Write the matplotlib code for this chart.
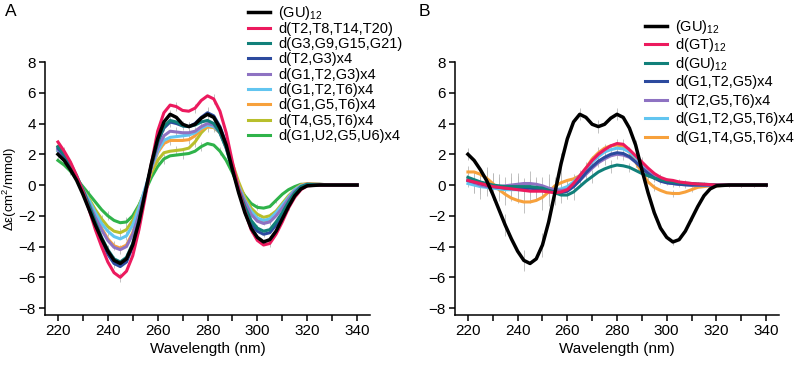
import matplotlib
matplotlib.use("Agg")
import matplotlib.pyplot as plt
from matplotlib.lines import Line2D
import numpy as np

plt.rcParams['font.family'] = ['Liberation Sans', 'DejaVu Sans']
plt.rcParams['mathtext.fontset'] = 'custom'
plt.rcParams['mathtext.rm'] = 'Liberation Sans'
plt.rcParams['mathtext.it'] = 'Liberation Sans:italic'

# wavelengths (nm)
wl = [220, 222.5, 225, 227.5, 230, 232.5, 235, 237.5, 240, 242.5, 245, 247.5,
      250, 252.5, 255, 257.5, 260, 262.5, 265, 267.5, 270, 272.5, 275, 277.5,
      280, 282.5, 285, 287.5, 290, 292.5, 295, 297.5, 300, 302.5, 305, 307.5,
      310, 312.5, 315, 317.5, 320, 325, 330, 335, 340]

# (GU)12, shown in both panels
gu12 = [2.0, 1.6, 1.0, 0.3, -0.6, -1.6, -2.6, -3.5, -4.3, -4.9, -5.1, -4.8, -3.9,
        -2.4, -0.5, 1.4, 3.0, 4.1, 4.6, 4.4, 3.95, 3.8, 3.95, 4.35, 4.6, 4.4, 3.7,
        2.6, 1.0, -0.5, -1.8, -2.8, -3.4, -3.7, -3.55, -3.0, -2.2, -1.4, -0.7,
        -0.25, -0.05, 0.0, 0.0, 0.0, 0.0]

# panel A
a_t = [2.8, 2.2, 1.5, 0.6, -0.4, -1.6, -2.9, -4.0, -5.0, -5.7, -6.0, -5.6, -4.6,
       -2.9, -0.8, 1.4, 3.5, 4.7, 5.2, 5.1, 4.85, 4.8, 5.0, 5.5, 5.8, 5.6, 4.8,
       3.4, 1.5, -0.3, -1.7, -2.9, -3.6, -3.9, -3.8, -3.2, -2.4, -1.5, -0.8,
       -0.3, -0.05, 0.0, 0.0, 0.0, 0.0]
a_g = [2.5, 2.0, 1.4, 0.6, -0.3, -1.3, -2.4, -3.4, -4.2, -4.8, -5.0, -4.7, -3.8,
       -2.3, -0.5, 1.3, 2.8, 3.8, 4.2, 4.1, 3.85, 3.8, 3.9, 4.1, 4.2, 4.0, 3.4,
       2.4, 1.0, -0.3, -1.4, -2.3, -2.8, -3.0, -2.9, -2.4, -1.8, -1.1, -0.5,
       -0.1, 0.05, 0.05, 0.0, 0.0, 0.0]
a_t2g3 = [2.4, 1.9, 1.3, 0.5, -0.4, -1.5, -2.6, -3.6, -4.5, -5.1, -5.3, -5.0, -4.0,
          -2.5, -0.6, 1.3, 2.8, 3.7, 4.1, 4.0, 3.85, 3.8, 4.0, 4.4, 4.7, 4.5, 3.8,
          2.7, 1.1, -0.4, -1.6, -2.5, -3.0, -3.2, -3.1, -2.6, -1.9, -1.2, -0.6,
          -0.15, 0.0, 0.0, 0.0, 0.0, 0.0]
a_g1t2g3 = [2.3, 1.8, 1.2, 0.5, -0.3, -1.2, -2.1, -2.9, -3.6, -4.05, -4.2, -4.0, -3.2,
            -1.9, -0.4, 1.2, 2.4, 3.2, 3.5, 3.45, 3.4, 3.4, 3.5, 3.8, 4.0, 3.9, 3.4,
            2.4, 1.1, -0.2, -1.1, -1.9, -2.35, -2.5, -2.4, -2.0, -1.5, -0.9, -0.4,
            -0.1, 0.05, 0.0, 0.0, 0.0, 0.0]
a_g1t2t6 = [2.2, 1.7, 1.1, 0.4, -0.3, -1.0, -1.8, -2.5, -3.0, -3.35, -3.5, -3.3, -2.6,
            -1.5, -0.2, 1.1, 2.2, 2.9, 3.1, 3.15, 3.2, 3.25, 3.4, 3.7, 3.9, 3.8, 3.4,
            2.5, 1.2, -0.1, -1.0, -1.7, -2.15, -2.3, -2.2, -1.8, -1.3, -0.8, -0.3,
            -0.05, 0.05, 0.0, 0.0, 0.0, 0.0]
a_g1g5t6 = [2.5, 1.9, 1.3, 0.5, -0.3, -1.1, -2.0, -2.8, -3.5, -3.95, -4.1, -3.9, -3.1,
            -1.8, -0.4, 1.0, 2.1, 2.7, 2.9, 2.9, 2.9, 2.95, 3.2, 3.6, 3.8, 3.75, 3.4,
            2.5, 1.3, 0.0, -1.0, -1.8, -2.25, -2.4, -2.3, -1.9, -1.4, -0.8, -0.3,
            0.0, 0.1, 0.05, 0.0, 0.0, 0.0]
a_t4g5t6 = [2.2, 1.7, 1.1, 0.4, -0.3, -0.9, -1.6, -2.2, -2.7, -3.0, -3.1, -2.9, -2.3,
            -1.4, -0.3, 0.8, 1.6, 2.1, 2.2, 2.25, 2.3, 2.4, 2.8, 3.4, 3.8, 3.75, 3.4,
            2.6, 1.4, 0.2, -0.8, -1.5, -1.9, -2.1, -2.0, -1.7, -1.2, -0.7, -0.3,
            0.0, 0.05, 0.0, 0.0, 0.0, 0.0]
a_g1u2g5u6 = [1.6, 1.3, 0.9, 0.4, -0.1, -0.6, -1.1, -1.6, -2.0, -2.3, -2.45, -2.4, -2.0,
              -1.3, -0.4, 0.5, 1.2, 1.7, 1.9, 1.95, 2.0, 2.05, 2.2, 2.5, 2.7, 2.6, 2.2,
              1.6, 0.8, -0.1, -0.7, -1.2, -1.45, -1.5, -1.4, -1.0, -0.6, -0.3, -0.1,
              0.05, 0.05, 0.0, 0.0, 0.0, 0.0]
err_a = [0.35, 0.3, 0.25, 0.25, 0.25, 0.25, 0.25, 0.25, 0.3, 0.3, 0.3, 0.3, 0.25,
         0.25, 0.25, 0.25, 0.25, 0.3, 0.3, 0.3, 0.3, 0.3, 0.3, 0.3, 0.35, 0.3, 0.25,
         0.25, 0.2, 0.2, 0.2, 0.2, 0.2, 0.2, 0.2, 0.15, 0.15, 0.1, 0.1, 0.1, 0.05,
         0.05, 0.05, 0.05, 0.05]

# panel B
b_gt = [0.3, 0.2, 0.1, 0.0, -0.1, -0.15, -0.2, -0.25, -0.3, -0.35, -0.4, -0.4, -0.4,
        -0.45, -0.5, -0.45, -0.3, 0.1, 0.6, 1.1, 1.6, 2.0, 2.3, 2.55, 2.7, 2.65, 2.3,
        1.9, 1.5, 1.1, 0.75, 0.5, 0.35, 0.3, 0.2, 0.15, 0.1, 0.07, 0.05, 0.03, 0.0,
        0.0, 0.0, 0.0, 0.0]
b_gu = [0.5, 0.35, 0.2, 0.1, 0.0, -0.05, -0.1, -0.1, -0.1, -0.1, -0.1, -0.15, -0.2,
        -0.35, -0.5, -0.65, -0.65, -0.45, -0.1, 0.25, 0.55, 0.85, 1.05, 1.2, 1.3, 1.25,
        1.15, 0.95, 0.75, 0.6, 0.45, 0.35, 0.25, 0.2, 0.15, 0.12, 0.1, 0.07, 0.05,
        0.03, 0.0, 0.0, 0.0, 0.0, 0.0]
b_g1t2g5 = [0.3, 0.2, 0.1, 0.0, -0.1, -0.15, -0.2, -0.2, -0.25, -0.25, -0.2, -0.25, -0.3,
            -0.35, -0.45, -0.5, -0.4, -0.1, 0.3, 0.8, 1.2, 1.55, 1.8, 2.0, 2.1, 2.05,
            1.85, 1.5, 1.1, 0.75, 0.45, 0.25, 0.15, 0.1, 0.05, 0.02, 0.0, 0.0, 0.0,
            0.0, 0.0, 0.0, 0.0, 0.0, 0.0]
b_t2g5t6 = [0.3, 0.15, 0.0, -0.1, -0.1, -0.1, -0.05, 0.0, 0.05, 0.1, 0.1, 0.05, -0.05,
            -0.2, -0.3, -0.35, -0.3, -0.1, 0.3, 0.7, 1.1, 1.45, 1.7, 1.9, 2.0, 1.95,
            1.8, 1.5, 1.15, 0.8, 0.5, 0.3, 0.15, 0.1, 0.05, 0.02, 0.0, 0.0, 0.0,
            0.0, 0.0, 0.0, 0.0, 0.0, 0.0]
b_g1t2g5t6 = [0.1, 0.0, -0.1, -0.15, -0.2, -0.25, -0.3, -0.3, -0.3, -0.3, -0.3, -0.3, -0.3,
              -0.3, -0.3, -0.25, -0.1, 0.2, 0.6, 1.05, 1.5, 1.85, 2.15, 2.3, 2.4, 2.35,
              2.15, 1.8, 1.35, 0.95, 0.6, 0.35, 0.2, 0.1, 0.05, 0.02, 0.0, 0.0, 0.0,
              0.0, 0.0, 0.0, 0.0, 0.0, 0.0]
b_g1t4g5t6 = [0.85, 0.85, 0.7, 0.45, 0.1, -0.3, -0.6, -0.85, -1.0, -1.1, -1.1, -1.0, -0.8,
              -0.45, -0.05, 0.15, 0.3, 0.4, 0.6, 1.1, 1.7, 2.1, 2.4, 2.55, 2.6, 2.5,
              2.15, 1.5, 0.8, 0.2, -0.15, -0.35, -0.5, -0.55, -0.55, -0.45, -0.3, -0.15,
              -0.1, -0.05, -0.05, 0.0, 0.0, 0.0, 0.0]
err_b = [0.4, 0.7, 0.8, 0.7, 0.9, 0.8, 0.7, 0.8, 0.9, 0.7, 0.8, 0.7, 0.8, 0.9, 0.8,
         0.7, 0.6, 0.5, 0.4, 0.4, 0.4, 0.4, 0.4, 0.4, 0.4, 0.35, 0.3, 0.3, 0.3, 0.25,
         0.25, 0.2, 0.2, 0.2, 0.2, 0.2, 0.15, 0.15, 0.15, 0.1, 0.1, 0.1, 0.1, 0.1, 0.1]

labels_a = ['(GU)$_{12}$', 'd(T2,T8,T14,T20)', 'd(G3,G9,G15,G21)', 'd(T2,G3)x4',
            'd(G1,T2,G3)x4', 'd(G1,T2,T6)x4', 'd(G1,G5,T6)x4', 'd(T4,G5,T6)x4',
            'd(G1,U2,G5,U6)x4']
labels_b = ['(GU)$_{12}$', 'd(GT)$_{12}$', 'd(GU)$_{12}$', 'd(G1,T2,G5)x4',
            'd(T2,G5,T6)x4', 'd(G1,T2,G5,T6)x4', 'd(G1,T4,G5,T6)x4']

colors_a = ['#000000', '#ec1a5e', '#11807a', '#2c4a9e', '#8e72c2', '#62c5f0',
            '#f7a13c', '#b8bf2c', '#2fb34a']
colors_b = ['#000000', '#ec1a5e', '#11807a', '#2c4a9e', '#8e72c2', '#62c5f0',
            '#f7a13c']

data_a = [gu12, a_t, a_g, a_t2g3, a_g1t2g3, a_g1t2t6, a_g1g5t6, a_t4g5t6, a_g1u2g5u6]
data_b = [gu12, b_gt, b_gu, b_g1t2g5, b_t2g5t6, b_g1t2g5t6, b_g1t4g5t6]

W, H = 800, 367
fig = plt.figure(figsize=(8, 3.67), dpi=100)
ax_a = fig.add_axes([45 / W, 1 - 315 / H, 325 / W, 253 / H])
ax_b = fig.add_axes([455 / W, 1 - 315 / H, 324 / W, 253 / H])


def draw(ax, data, colors, err):
    for i in reversed(range(len(data))):
        ax.errorbar(wl, data[i], yerr=err, fmt='none', ecolor='#b8b8b8',
                    elinewidth=0.6, errorevery=(i % 3, 3), zorder=1)
        lw = 2.5 if i == 0 else 2.2
        ax.plot(wl, data[i], color=colors[i], lw=lw, zorder=2 + len(data) - i)
    ax.set_xlim(214.8, 345.2)
    ax.set_ylim(-8.45, 8)
    ax.set_xticks(np.arange(220, 341, 20))
    ax.set_xticks(np.arange(230, 340, 20), minor=True)
    ax.set_yticks(np.arange(-8, 9, 2))
    ax.spines['top'].set_visible(False)
    ax.spines['right'].set_visible(False)
    for s in ['left', 'bottom']:
        ax.spines[s].set_linewidth(1.1)
    ax.tick_params(which='both', direction='out', length=4, width=1.1,
                   labelsize=11, pad=2.5)
    ax.set_xlabel('Wavelength (nm)', fontsize=11, labelpad=3)


def key(labels, colors, x0, y0, dy):
    # legend entries placed in pixel positions of the figure
    for i, (lab, c) in enumerate(zip(labels, colors)):
        y = y0 + dy * i
        fig.add_artist(Line2D([x0 / W, (x0 + 22) / W], [1 - y / H, 1 - y / H],
                              color=c, lw=2.5 if i == 0 else 2.2,
                              transform=fig.transFigure))
        fig.text((x0 + 30) / W, 1 - (y + 5) / H, lab, fontsize=10.5,
                 va='baseline', ha='left')


draw(ax_a, data_a, colors_a, err_a)
draw(ax_b, data_b, colors_b, err_b)
ax_a.set_ylabel('Δε(cm$^2$/mmol)', fontsize=9.5)
ax_a.yaxis.set_label_coords(-0.081, 0.5)

key(labels_a, colors_a, 248, 12.3, 15.35)
key(labels_b, colors_b, 645, 25.5, 18.6)

fig.text(0.006, 1 - 12 / H, 'A', fontsize=12.5, va='center')
fig.text(0.523, 1 - 12 / H, 'B', fontsize=12.5, va='center')

plt.savefig('out.png', dpi=100)
